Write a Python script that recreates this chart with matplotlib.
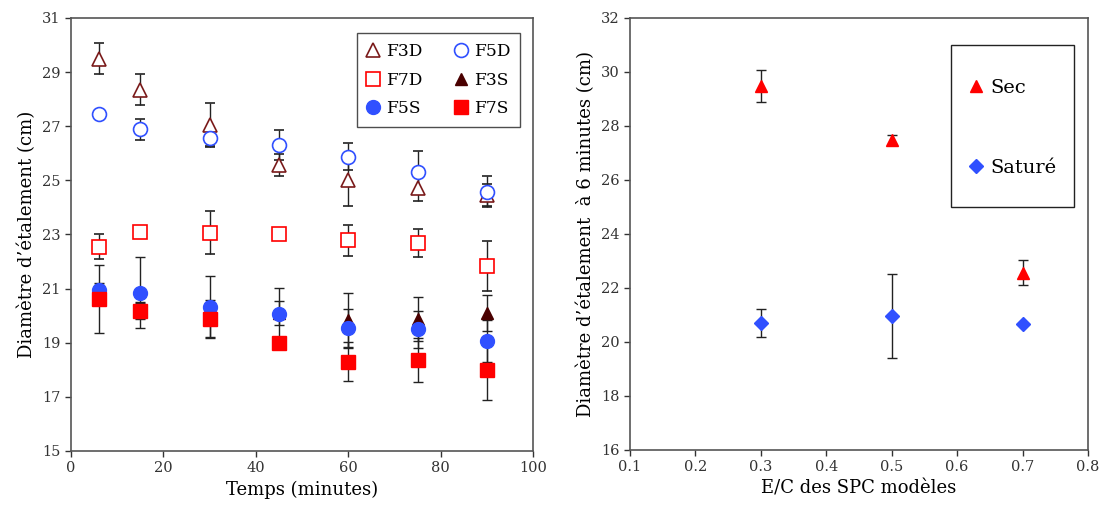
import numpy as np
import matplotlib
matplotlib.use("Agg")
import matplotlib.pyplot as plt
from matplotlib.patches import Rectangle

plt.rcParams['font.family'] = ['DejaVu Serif']

# left chart: diameter vs time
temps = [6, 15, 30, 45, 60, 75, 90]
f3d = [29.5, 28.35, 27.05, 25.57, 25.0, 24.73, 24.45]
f3d_err = [0.58, 0.57, 0.8, 0.42, 0.95, 0.5, 0.4]
f5d = [27.47, 26.88, 26.55, 26.32, 25.88, 25.3, 24.58]
f5d_err = [0.0, 0.38, 0.27, 0.55, 0.5, 0.8, 0.58]
f7d = [22.55, 23.1, 23.07, 23.03, 22.78, 22.68, 21.83]
f7d_err = [0.47, 0.0, 0.8, 0.0, 0.56, 0.53, 0.93]
f3s = [20.9, 20.2, 20.1, 20.1, 19.84, 19.88, 20.09]
f3s_err = [0.25, 0.3, 0.2, 0.45, 1.0, 0.82, 0.67]
f5s = [20.95, 20.85, 20.33, 20.05, 19.53, 19.5, 19.07]
f5s_err = [0.25, 1.3, 1.13, 0.98, 0.72, 0.68, 0.77]
f7s = [20.62, 20.18, 19.88, 19.0, 18.3, 18.36, 18.0]
f7s_err = [1.25, 0.3, 0.7, 0.22, 0.72, 0.82, 1.13]

# right chart: diameter at 6 minutes vs E/C
ec = [0.3, 0.5, 0.7]
sec = [29.48, 27.48, 22.57]
sec_err = [0.58, 0.2, 0.47]
sature = [20.7, 20.95, 20.65]
sature_err = [0.52, 1.55, 0.0]

fig = plt.figure(figsize=(11.03, 5.17), dpi=100)
ax1 = fig.add_axes([0.0644, 0.1277, 0.4189, 0.8375])
ax2 = fig.add_axes([0.5712, 0.1296, 0.4152, 0.8356])

dkred = "#7a1a1a"
maroon = "#4a0000"
blue = "#3050ff"
red = "#ff0000"
ekw = dict(ecolor="#222222", elinewidth=1.0, capsize=3.5, capthick=1.0, ls="none")

h = {}
h["F3D"] = ax1.errorbar(temps, f3d, yerr=f3d_err, marker="^", ms=10, mfc="white", mec=dkred, mew=1.2, **ekw)
h["F5D"] = ax1.errorbar(temps, f5d, yerr=f5d_err, marker="o", ms=10, mfc="white", mec=blue, mew=1.2, **ekw)
h["F7D"] = ax1.errorbar(temps, f7d, yerr=f7d_err, marker="s", ms=10, mfc="white", mec=red, mew=1.2, **ekw)
h["F3S"] = ax1.errorbar(temps, f3s, yerr=f3s_err, marker="^", ms=9, mfc=maroon, mec=maroon, **ekw)
h["F5S"] = ax1.errorbar(temps, f5s, yerr=f5s_err, marker="o", ms=10, mfc=blue, mec=blue, **ekw)
h["F7S"] = ax1.errorbar(temps, f7s, yerr=f7s_err, marker="s", ms=10, mfc=red, mec=red, **ekw)

order = ["F3D", "F7D", "F5S", "F5D", "F3S", "F7S"]
leg1 = ax1.legend([h[k][0] for k in order], order, ncol=2, loc="upper right",
                  bbox_to_anchor=(0.972, 0.965), borderaxespad=0, fontsize=12.3,
                  frameon=True, fancybox=False, edgecolor="#222222",
                  handlelength=0.8, handletextpad=0.35, columnspacing=1.9,
                  labelspacing=0.7, borderpad=0.55)
leg1.get_frame().set_linewidth(1.0)

ax1.set_xlim(0, 100)
ax1.set_ylim(15, 31)
ax1.set_xticks(np.arange(0, 101, 20))
ax1.set_yticks(np.arange(15, 32, 2))
ax1.set_xlabel("Temps (minutes)", fontsize=13)
ax1.set_ylabel("Diamètre d\u2019étalement (cm)", fontsize=13)

s1 = ax2.errorbar(ec, sec, yerr=sec_err, marker="^", ms=9, mfc=red, mec=red, **ekw)
s2 = ax2.errorbar(ec, sature, yerr=sature_err, marker="D", ms=7, mfc=blue, mec=blue, **ekw)
leg2 = ax2.legend([s1[0], s2[0]], ["Sec", "Saturé"], loc="center left",
                  bbox_to_anchor=(0.738, 0.745), borderaxespad=0, fontsize=14,
                  frameon=False, handlelength=0.8, handletextpad=0.35,
                  labelspacing=3.2, borderpad=0)
# legend box drawn separately so it can be taller than wide
ax2.add_patch(Rectangle((0.701, 0.5625), 0.268, 0.375, transform=ax2.transAxes,
                        fill=False, edgecolor="#222222", linewidth=1.0, zorder=5))

ax2.set_xlim(0.1, 0.8)
ax2.set_ylim(16, 32)
ax2.set_xticks(np.arange(0.1, 0.81, 0.1))
ax2.set_xticklabels(["0.1", "0.2", "0.3", "0.4", "0.5", "0.6", "0.7", "0.8"])
ax2.set_yticks(np.arange(16, 33, 2))
ax2.set_xlabel("E/C des SPC modèles", fontsize=13)
ax2.set_ylabel("Diamètre d\u2019étalement  à 6 minutes (cm)", fontsize=13)

for ax in (ax1, ax2):
    ax.tick_params(direction="out", length=4, width=1, labelsize=10.5, colors="#333333",
                   top=False, right=False)
    for sp in ax.spines.values():
        sp.set_color("#555555")
        sp.set_linewidth(1.2)

fig.savefig("out.png", dpi=100)
